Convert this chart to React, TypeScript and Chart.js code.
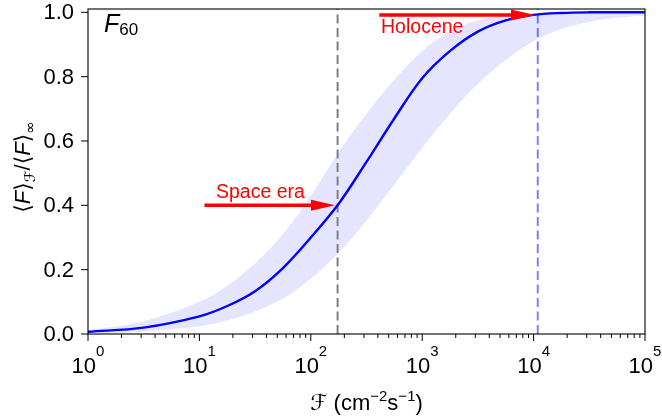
import React, { useEffect, useRef } from "react";
import { Chart, registerables } from "chart.js";

Chart.register(...registerables);

// ---- data ----
const fluxValues = [1, 3.16, 10, 17.8, 31.6, 56.2, 100, 178, 316, 562, 1000, 1780, 3160, 5620, 10000, 17800, 31600, 56200, 100000];
const meanCurve = [0.007, 0.02, 0.055, 0.087, 0.133, 0.205, 0.3, 0.405, 0.535, 0.67, 0.795, 0.88, 0.94, 0.975, 0.992, 0.998, 1.0, 1.0, 1.0];
const bandUpper = [0.012, 0.04, 0.1, 0.15, 0.22, 0.31, 0.43, 0.565, 0.685, 0.79, 0.88, 0.94, 0.975, 0.99, 0.996, 0.999, 1.0, 1.0, 1.0];
const bandLower = [0.002, 0.008, 0.024, 0.042, 0.07, 0.11, 0.172, 0.252, 0.352, 0.465, 0.578, 0.685, 0.778, 0.852, 0.91, 0.948, 0.97, 0.983, 0.99];

const spaceEraFlux = 174;
const holoceneFlux = 10900;

const spaceEraArrowX = [11.1, 165];
const spaceEraArrowY = 0.4;
const holoceneArrowX = [412, 10300];
const holoceneArrowY = 0.992;

const spaceEraLabelPos = [14.1, 0.423];
const holoceneLabelPos = [427, 0.936];

const yTickValues = [0, 0.2, 0.4, 0.6, 0.8, 1.0];
const xTickExponents = [0, 1, 2, 3, 4, 5];

const Y_MAX = 1.0103;
const SANS = '"Liberation Sans", Arial, "DejaVu Sans", sans-serif';
const MATH = '"DejaVu Sans", "Liberation Sans", sans-serif';

type Run = { text: string; font: string; dy?: number };

function drawRuns(ctx: CanvasRenderingContext2D, runs: Run[], x: number, y: number, align: "center" | "left" = "center") {
  let total = 0;
  const widths: number[] = [];
  for (const r of runs) {
    ctx.font = r.font;
    const w = ctx.measureText(r.text).width;
    widths.push(w);
    total += w;
  }
  let cx = align === "center" ? x - total / 2 : x;
  ctx.textAlign = "left";
  ctx.textBaseline = "alphabetic";
  runs.forEach((r, i) => {
    ctx.font = r.font;
    ctx.fillText(r.text, cx, y + (r.dy || 0));
    cx += widths[i];
  });
}

function drawArrow(ctx: CanvasRenderingContext2D, x0: number, x1: number, y: number) {
  const headLen = 24;
  const halfW = 5.5;
  ctx.save();
  ctx.strokeStyle = "#ff0000";
  ctx.fillStyle = "#ff0000";
  ctx.lineWidth = 3.5;
  ctx.lineCap = "butt";
  ctx.beginPath();
  ctx.moveTo(x0, y);
  ctx.lineTo(x1 - headLen + 1, y);
  ctx.stroke();
  ctx.beginPath();
  ctx.moveTo(x1, y);
  ctx.lineTo(x1 - headLen, y - halfW);
  ctx.lineTo(x1 - headLen, y + halfW);
  ctx.closePath();
  ctx.fill();
  ctx.restore();
}

const overlayPlugin = {
  id: "overlay",
  afterDraw(chart: any) {
    const ctx: CanvasRenderingContext2D = chart.ctx;
    const xs = chart.scales.x;
    const ys = chart.scales.y;
    const { left, right, top, bottom } = chart.chartArea;
    ctx.save();

    // arrows
    drawArrow(ctx, xs.getPixelForValue(spaceEraArrowX[0]), xs.getPixelForValue(spaceEraArrowX[1]), ys.getPixelForValue(spaceEraArrowY));
    drawArrow(ctx, xs.getPixelForValue(holoceneArrowX[0]), xs.getPixelForValue(holoceneArrowX[1]), ys.getPixelForValue(holoceneArrowY));

    // annotation labels
    ctx.fillStyle = "#ff0000";
    ctx.font = `19.5px ${SANS}`;
    ctx.textAlign = "left";
    ctx.textBaseline = "alphabetic";
    ctx.fillText("Space era", xs.getPixelForValue(spaceEraLabelPos[0]), ys.getPixelForValue(spaceEraLabelPos[1]));
    ctx.fillText("Holocene", xs.getPixelForValue(holoceneLabelPos[0]), ys.getPixelForValue(holoceneLabelPos[1]));

    // frame
    ctx.strokeStyle = "#000000";
    ctx.lineWidth = 1.1;
    ctx.strokeRect(left, top, right - left, bottom - top);

    // y ticks
    ctx.fillStyle = "#000000";
    ctx.lineWidth = 1;
    for (const v of yTickValues) {
      const py = ys.getPixelForValue(v);
      ctx.beginPath();
      ctx.moveTo(left - 7, py);
      ctx.lineTo(left, py);
      ctx.stroke();
      ctx.font = `22px ${SANS}`;
      ctx.textAlign = "right";
      ctx.textBaseline = "middle";
      ctx.fillText(v.toFixed(1), left - 14, py + 1);
    }

    // x ticks (major + minor)
    for (const e of xTickExponents) {
      const v = Math.pow(10, e);
      const px = xs.getPixelForValue(v);
      ctx.beginPath();
      ctx.moveTo(px, bottom);
      ctx.lineTo(px, bottom + 7);
      ctx.stroke();
      drawRuns(ctx, [
        { text: "10", font: `22px ${SANS}` },
        { text: String(e), font: `15px ${SANS}`, dy: -17 },
      ], px, 373);
      if (e < 5) {
        for (let m = 2; m <= 9; m++) {
          const mpx = xs.getPixelForValue(m * v);
          ctx.beginPath();
          ctx.moveTo(mpx, bottom);
          ctx.lineTo(mpx, bottom + 4);
          ctx.stroke();
        }
      }
    }

    // x axis title
    drawRuns(ctx, [
      { text: "\u2131", font: `italic 22px ${MATH}` },
      { text: " (cm", font: `22px ${SANS}` },
      { text: "\u22122", font: `15px ${SANS}`, dy: -9 },
      { text: "s", font: `22px ${SANS}` },
      { text: "\u22121", font: `15px ${SANS}`, dy: -9 },
      { text: ")", font: `22px ${SANS}` },
    ], (left + right) / 2, 410);

    // y axis title (rotated)
    ctx.save();
    ctx.translate(30, 167);
    ctx.rotate(-Math.PI / 2);
    drawRuns(ctx, [
      { text: "\u27E8", font: `22px ${MATH}` },
      { text: "F", font: `italic 22px ${SANS}` },
      { text: "\u27E9", font: `22px ${MATH}` },
      { text: "\u2131", font: `italic 15px ${MATH}`, dy: 5 },
      { text: "/", font: `22px ${SANS}` },
      { text: "\u27E8", font: `22px ${MATH}` },
      { text: "F", font: `italic 22px ${SANS}` },
      { text: "\u27E9", font: `22px ${MATH}` },
      { text: "\u221E", font: `15px ${MATH}`, dy: 5 },
    ], 0, 0);
    ctx.restore();

    // panel label F_60
    drawRuns(ctx, [
      { text: "F", font: `italic 25px ${SANS}` },
      { text: "60", font: `17px ${SANS}`, dy: 3 },
    ], left + 16, top + 23, "left");

    ctx.restore();
  },
};

export default function App() {
  const canvasRef = useRef<HTMLCanvasElement | null>(null);

  useEffect(() => {
    if (!canvasRef.current) return;
    const pts = (ys: number[]) => fluxValues.map((x, i) => ({ x, y: ys[i] }));
    const chart = new Chart(canvasRef.current, {
      type: "line",
      data: {
        datasets: [
          {
            label: "mean",
            data: pts(meanCurve),
            borderColor: "#0000ff",
            borderWidth: 2.4,
            pointRadius: 0,
            tension: 0.35,
            fill: false,
          },
          {
            label: "space era",
            data: [{ x: spaceEraFlux, y: 0 }, { x: spaceEraFlux, y: Y_MAX }],
            borderColor: "#7f7f7f",
            borderWidth: 2,
            borderDash: [9, 4.5],
            pointRadius: 0,
            fill: false,
          },
          {
            label: "holocene",
            data: [{ x: holoceneFlux, y: 0 }, { x: holoceneFlux, y: Y_MAX }],
            borderColor: "rgba(0,0,255,0.5)",
            borderWidth: 2,
            borderDash: [9, 4.5],
            pointRadius: 0,
            fill: false,
          },
          {
            label: "upper",
            data: pts(bandUpper),
            borderWidth: 0,
            borderColor: "rgba(0,0,0,0)",
            backgroundColor: "rgba(0,0,255,0.1)",
            pointRadius: 0,
            tension: 0.35,
            fill: "+1",
          },
          {
            label: "lower",
            data: pts(bandLower),
            borderWidth: 0,
            borderColor: "rgba(0,0,0,0)",
            pointRadius: 0,
            tension: 0.35,
            fill: false,
          },
        ],
      },
      options: {
        animation: false,
        responsive: false,
        devicePixelRatio: 1,
        layout: { padding: { left: 88, right: 17, top: 9, bottom: 83 } },
        plugins: {
          legend: { display: false },
          tooltip: { enabled: false },
          title: { display: false },
        },
        scales: {
          x: { type: "logarithmic", min: 1, max: 100000, display: false },
          y: { type: "linear", min: 0, max: Y_MAX, display: false },
        },
      },
      plugins: [overlayPlugin],
    });
    return () => chart.destroy();
  }, []);

  return (
    <div style={{ position: "fixed", left: 0, top: 0, width: 662, height: 417, background: "#ffffff" }}>
      <canvas ref={canvasRef} width={662} height={417} style={{ display: "block" }} />
    </div>
  );
}
